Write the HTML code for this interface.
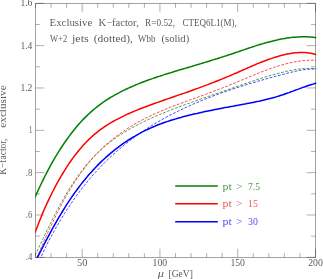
<!DOCTYPE html>
<html><head><meta charset="utf-8"><title>K-factor</title>
<style>html,body{margin:0;padding:0;background:#fff;overflow:hidden}body{width:323px;height:279px;position:relative;font-family:"Liberation Serif",serif}</style></head>
<body>
<div style="position:absolute;left:0;top:0;width:323px;height:279px;will-change:transform">
<svg width="323" height="279" viewBox="0 0 323 279" style="position:absolute;left:0;top:0">
<defs><clipPath id="c"><rect x="35.2" y="3.2" width="281" height="254.8"/></clipPath></defs>
<g stroke="#000" stroke-opacity="0.36" stroke-width="1" fill="none">
<rect x="35.5" y="3.5" width="280.0" height="254.0"/>
<path d="M35.50 257.5 v-4.4 M35.50 3.5 v4.4" stroke-opacity="0.31"/>
<path d="M51.06 257.5 v-4.4 M51.06 3.5 v4.4" stroke-opacity="0.31"/>
<path d="M66.61 257.5 v-4.4 M66.61 3.5 v4.4" stroke-opacity="0.31"/>
<path d="M82.17 257.5 v-8.8 M82.17 3.5 v8.8" stroke-opacity="0.31"/>
<path d="M97.72 257.5 v-4.4 M97.72 3.5 v4.4" stroke-opacity="0.31"/>
<path d="M113.28 257.5 v-4.4 M113.28 3.5 v4.4" stroke-opacity="0.31"/>
<path d="M128.83 257.5 v-4.4 M128.83 3.5 v4.4" stroke-opacity="0.31"/>
<path d="M144.39 257.5 v-4.4 M144.39 3.5 v4.4" stroke-opacity="0.31"/>
<path d="M159.94 257.5 v-8.8 M159.94 3.5 v8.8" stroke-opacity="0.31"/>
<path d="M175.50 257.5 v-4.4 M175.50 3.5 v4.4" stroke-opacity="0.31"/>
<path d="M191.06 257.5 v-4.4 M191.06 3.5 v4.4" stroke-opacity="0.31"/>
<path d="M206.61 257.5 v-4.4 M206.61 3.5 v4.4" stroke-opacity="0.31"/>
<path d="M222.17 257.5 v-4.4 M222.17 3.5 v4.4" stroke-opacity="0.31"/>
<path d="M237.72 257.5 v-8.8 M237.72 3.5 v8.8" stroke-opacity="0.31"/>
<path d="M253.28 257.5 v-4.4 M253.28 3.5 v4.4" stroke-opacity="0.31"/>
<path d="M268.83 257.5 v-4.4 M268.83 3.5 v4.4" stroke-opacity="0.31"/>
<path d="M284.39 257.5 v-4.4 M284.39 3.5 v4.4" stroke-opacity="0.31"/>
<path d="M299.94 257.5 v-4.4 M299.94 3.5 v4.4" stroke-opacity="0.31"/>
<path d="M315.50 257.5 v-8.8 M315.50 3.5 v8.8" stroke-opacity="0.31"/>
<path d="M35.5 257.30 h8.8 M315.5 257.30 h-8.8" stroke-opacity="0.31"/>
<path d="M35.5 236.13 h4.4 M315.5 236.13 h-4.4" stroke-opacity="0.31"/>
<path d="M35.5 214.97 h8.8 M315.5 214.97 h-8.8" stroke-opacity="0.31"/>
<path d="M35.5 193.80 h4.4 M315.5 193.80 h-4.4" stroke-opacity="0.31"/>
<path d="M35.5 172.63 h8.8 M315.5 172.63 h-8.8" stroke-opacity="0.31"/>
<path d="M35.5 151.47 h4.4 M315.5 151.47 h-4.4" stroke-opacity="0.31"/>
<path d="M35.5 130.30 h8.8 M315.5 130.30 h-8.8" stroke-opacity="0.31"/>
<path d="M35.5 109.13 h4.4 M315.5 109.13 h-4.4" stroke-opacity="0.31"/>
<path d="M35.5 87.97 h8.8 M315.5 87.97 h-8.8" stroke-opacity="0.31"/>
<path d="M35.5 66.80 h4.4 M315.5 66.80 h-4.4" stroke-opacity="0.31"/>
<path d="M35.5 45.63 h8.8 M315.5 45.63 h-8.8" stroke-opacity="0.31"/>
<path d="M35.5 24.47 h4.4 M315.5 24.47 h-4.4" stroke-opacity="0.31"/>
<path d="M35.5 3.30 h8.8 M315.5 3.30 h-8.8" stroke-opacity="0.31"/>
</g>
<g clip-path="url(#c)" fill="none" stroke-linejoin="round">
<path d="M35.0 255.3 L37.0 251.3 L39.0 247.2 L41.0 243.0 L43.0 238.8 L45.0 234.6 L47.0 230.5 L49.0 226.3 L51.0 222.3 L53.0 218.3 L55.0 214.4 L57.0 210.5 L59.0 206.8 L61.0 203.1 L63.0 199.5 L65.0 196.0 L67.0 192.7 L69.0 189.4 L71.0 186.2 L73.0 183.1 L75.0 180.1 L77.0 177.2 L79.0 174.4 L81.0 171.8 L83.0 169.2 L85.0 166.6 L87.0 164.2 L89.0 161.9 L91.0 159.7 L93.0 157.5 L95.0 155.4 L97.0 153.4 L99.0 151.5 L101.0 149.7 L103.0 147.9 L105.0 146.2 L107.0 144.5 L109.0 142.9 L111.0 141.4 L113.0 139.9 L115.0 138.5 L117.0 137.1 L119.0 135.7 L121.0 134.4 L123.0 133.1 L125.0 131.9 L127.0 130.7 L129.0 129.5 L131.0 128.4 L133.0 127.3 L135.0 126.2 L137.0 125.1 L139.0 124.1 L141.0 123.1 L143.0 122.1 L145.0 121.1 L147.0 120.1 L149.0 119.2 L151.0 118.3 L153.0 117.4 L155.0 116.5 L157.0 115.6 L159.0 114.8 L161.0 113.9 L163.0 113.1 L165.0 112.3 L167.0 111.5 L169.0 110.7 L171.0 109.9 L173.0 109.1 L175.0 108.4 L177.0 107.6 L179.0 106.9 L181.0 106.1 L183.0 105.4 L185.0 104.7 L187.0 103.9 L189.0 103.2 L191.0 102.5 L193.0 101.8 L195.0 101.1 L197.0 100.4 L199.0 99.7 L201.0 98.9 L203.0 98.2 L205.0 97.6 L207.0 96.9 L209.0 96.2 L211.0 95.5 L213.0 94.8 L215.0 94.1 L217.0 93.4 L219.0 92.7 L221.0 92.0 L223.0 91.3 L225.0 90.6 L227.0 89.9 L229.0 89.2 L231.0 88.6 L233.0 87.9 L235.0 87.2 L237.0 86.5 L239.0 85.8 L241.0 85.1 L243.0 84.4 L245.0 83.7 L247.0 83.0 L249.0 82.3 L251.0 81.6 L253.0 81.0 L255.0 80.3 L257.0 79.6 L259.0 79.0 L261.0 78.4 L263.0 77.7 L265.0 77.1 L267.0 76.5 L269.0 75.9 L271.0 75.3 L273.0 74.8 L275.0 74.2 L277.0 73.7 L279.0 73.2 L281.0 72.6 L283.0 72.2 L285.0 71.7 L287.0 71.2 L289.0 70.8 L291.0 70.4 L293.0 70.0 L295.0 69.6 L297.0 69.3 L299.0 69.1 L301.0 68.8 L303.0 68.6 L305.0 68.5 L307.0 68.4 L309.0 68.4 L311.0 68.4 L313.0 68.4 L315.0 68.6 L317.0 68.7" stroke="#008000" stroke-width="0.7" stroke-dasharray="2.8 1.5"/>
<path d="M35.0 261.2 L37.0 256.9 L39.0 252.4 L41.0 247.9 L43.0 243.3 L45.0 238.9 L47.0 234.4 L49.0 230.0 L51.0 225.7 L53.0 221.5 L55.0 217.4 L57.0 213.3 L59.0 209.4 L61.0 205.6 L63.0 201.8 L65.0 198.2 L67.0 194.7 L69.0 191.3 L71.0 187.9 L73.0 184.7 L75.0 181.6 L77.0 178.6 L79.0 175.7 L81.0 172.8 L83.0 170.1 L85.0 167.5 L87.0 164.9 L89.0 162.5 L91.0 160.1 L93.0 157.8 L95.0 155.6 L97.0 153.5 L99.0 151.4 L101.0 149.4 L103.0 147.5 L105.0 145.7 L107.0 143.9 L109.0 142.1 L111.0 140.5 L113.0 138.9 L115.0 137.3 L117.0 135.8 L119.0 134.3 L121.0 132.9 L123.0 131.5 L125.0 130.1 L127.0 128.8 L129.0 127.6 L131.0 126.3 L133.0 125.1 L135.0 123.9 L137.0 122.8 L139.0 121.7 L141.0 120.6 L143.0 119.6 L145.0 118.5 L147.0 117.5 L149.0 116.5 L151.0 115.6 L153.0 114.6 L155.0 113.7 L157.0 112.8 L159.0 112.0 L161.0 111.1 L163.0 110.3 L165.0 109.4 L167.0 108.6 L169.0 107.8 L171.0 107.1 L173.0 106.3 L175.0 105.5 L177.0 104.8 L179.0 104.0 L181.0 103.3 L183.0 102.6 L185.0 101.8 L187.0 101.1 L189.0 100.4 L191.0 99.6 L193.0 98.9 L195.0 98.2 L197.0 97.5 L199.0 96.7 L201.0 96.0 L203.0 95.3 L205.0 94.5 L207.0 93.8 L209.0 93.0 L211.0 92.3 L213.0 91.5 L215.0 90.8 L217.0 90.0 L219.0 89.3 L221.0 88.5 L223.0 87.7 L225.0 86.9 L227.0 86.1 L229.0 85.3 L231.0 84.5 L233.0 83.7 L235.0 82.9 L237.0 82.1 L239.0 81.2 L241.0 80.4 L243.0 79.6 L245.0 78.7 L247.0 77.9 L249.0 77.0 L251.0 76.2 L253.0 75.4 L255.0 74.5 L257.0 73.7 L259.0 72.9 L261.0 72.1 L263.0 71.4 L265.0 70.6 L267.0 69.9 L269.0 69.1 L271.0 68.4 L273.0 67.8 L275.0 67.1 L277.0 66.4 L279.0 65.8 L281.0 65.2 L283.0 64.7 L285.0 64.1 L287.0 63.6 L289.0 63.1 L291.0 62.7 L293.0 62.2 L295.0 61.9 L297.0 61.5 L299.0 61.2 L301.0 60.9 L303.0 60.7 L305.0 60.5 L307.0 60.3 L309.0 60.2 L311.0 60.2 L313.0 60.2 L315.0 60.2 L317.0 60.3" stroke="#ff0000" stroke-width="0.7" stroke-dasharray="2.8 1.5"/>
<path d="M35.0 271.9 L37.0 266.6 L39.0 261.7 L41.0 257.1 L43.0 252.7 L45.0 248.5 L47.0 244.4 L49.0 240.5 L51.0 236.8 L53.0 233.1 L55.0 229.5 L57.0 226.0 L59.0 222.6 L61.0 219.3 L63.0 216.0 L65.0 212.8 L67.0 209.7 L69.0 206.7 L71.0 203.7 L73.0 200.7 L75.0 197.9 L77.0 195.1 L79.0 192.4 L81.0 189.7 L83.0 187.1 L85.0 184.6 L87.0 182.1 L89.0 179.7 L91.0 177.3 L93.0 175.0 L95.0 172.8 L97.0 170.6 L99.0 168.4 L101.0 166.3 L103.0 164.3 L105.0 162.3 L107.0 160.3 L109.0 158.4 L111.0 156.5 L113.0 154.7 L115.0 152.9 L117.0 151.1 L119.0 149.4 L121.0 147.7 L123.0 146.1 L125.0 144.4 L127.0 142.8 L129.0 141.3 L131.0 139.8 L133.0 138.3 L135.0 136.8 L137.0 135.4 L139.0 134.0 L141.0 132.6 L143.0 131.2 L145.0 129.9 L147.0 128.6 L149.0 127.3 L151.0 126.1 L153.0 124.8 L155.0 123.6 L157.0 122.4 L159.0 121.3 L161.0 120.1 L163.0 119.0 L165.0 117.9 L167.0 116.8 L169.0 115.7 L171.0 114.7 L173.0 113.7 L175.0 112.7 L177.0 111.7 L179.0 110.7 L181.0 109.7 L183.0 108.8 L185.0 107.8 L187.0 106.9 L189.0 106.0 L191.0 105.1 L193.0 104.2 L195.0 103.4 L197.0 102.5 L199.0 101.7 L201.0 100.8 L203.0 100.0 L205.0 99.2 L207.0 98.4 L209.0 97.6 L211.0 96.9 L213.0 96.1 L215.0 95.3 L217.0 94.6 L219.0 93.9 L221.0 93.1 L223.0 92.4 L225.0 91.7 L227.0 91.0 L229.0 90.3 L231.0 89.7 L233.0 89.0 L235.0 88.3 L237.0 87.7 L239.0 87.0 L241.0 86.4 L243.0 85.8 L245.0 85.1 L247.0 84.5 L249.0 83.9 L251.0 83.3 L253.0 82.7 L255.0 82.1 L257.0 81.5 L259.0 80.9 L261.0 80.4 L263.0 79.8 L265.0 79.2 L267.0 78.7 L269.0 78.1 L271.0 77.6 L273.0 77.0 L275.0 76.5 L277.0 75.9 L279.0 75.4 L281.0 74.9 L283.0 74.3 L285.0 73.8 L287.0 73.3 L289.0 72.8 L291.0 72.3 L293.0 71.8 L295.0 71.3 L297.0 70.9 L299.0 70.5 L301.0 70.2 L303.0 69.9 L305.0 69.6 L307.0 69.4 L309.0 69.2 L311.0 69.1 L313.0 69.0 L315.0 69.1 L317.0 69.1" stroke="#0000ff" stroke-width="0.7" stroke-dasharray="2.8 1.5"/>
<path d="M35.0 197.5 L37.0 192.9 L39.0 188.5 L41.0 184.2 L43.0 180.1 L45.0 176.0 L47.0 172.1 L49.0 168.4 L51.0 164.7 L53.0 161.2 L55.0 157.7 L57.0 154.4 L59.0 151.2 L61.0 148.0 L63.0 145.0 L65.0 142.0 L67.0 139.2 L69.0 136.4 L71.0 133.8 L73.0 131.2 L75.0 128.7 L77.0 126.3 L79.0 124.0 L81.0 121.8 L83.0 119.6 L85.0 117.6 L87.0 115.6 L89.0 113.7 L91.0 111.9 L93.0 110.1 L95.0 108.5 L97.0 106.9 L99.0 105.3 L101.0 103.8 L103.0 102.4 L105.0 101.0 L107.0 99.7 L109.0 98.5 L111.0 97.2 L113.0 96.1 L115.0 94.9 L117.0 93.8 L119.0 92.8 L121.0 91.7 L123.0 90.7 L125.0 89.7 L127.0 88.8 L129.0 87.9 L131.0 87.0 L133.0 86.1 L135.0 85.3 L137.0 84.4 L139.0 83.6 L141.0 82.8 L143.0 82.0 L145.0 81.3 L147.0 80.5 L149.0 79.8 L151.0 79.1 L153.0 78.4 L155.0 77.7 L157.0 77.0 L159.0 76.4 L161.0 75.7 L163.0 75.1 L165.0 74.4 L167.0 73.8 L169.0 73.2 L171.0 72.6 L173.0 72.0 L175.0 71.3 L177.0 70.7 L179.0 70.1 L181.0 69.6 L183.0 69.0 L185.0 68.4 L187.0 67.8 L189.0 67.2 L191.0 66.6 L193.0 66.0 L195.0 65.4 L197.0 64.8 L199.0 64.2 L201.0 63.6 L203.0 63.0 L205.0 62.4 L207.0 61.8 L209.0 61.2 L211.0 60.5 L213.0 59.9 L215.0 59.3 L217.0 58.7 L219.0 58.0 L221.0 57.4 L223.0 56.8 L225.0 56.1 L227.0 55.5 L229.0 54.8 L231.0 54.2 L233.0 53.5 L235.0 52.8 L237.0 52.1 L239.0 51.5 L241.0 50.8 L243.0 50.1 L245.0 49.4 L247.0 48.7 L249.0 48.0 L251.0 47.4 L253.0 46.7 L255.0 46.1 L257.0 45.4 L259.0 44.8 L261.0 44.2 L263.0 43.6 L265.0 43.0 L267.0 42.4 L269.0 41.9 L271.0 41.4 L273.0 40.9 L275.0 40.4 L277.0 40.0 L279.0 39.5 L281.0 39.1 L283.0 38.8 L285.0 38.4 L287.0 38.1 L289.0 37.8 L291.0 37.6 L293.0 37.3 L295.0 37.2 L297.0 37.0 L299.0 36.9 L301.0 36.8 L303.0 36.8 L305.0 36.8 L307.0 36.8 L309.0 36.9 L311.0 37.1 L313.0 37.3 L315.0 37.5 L317.0 37.8" stroke="#008000" stroke-width="1.5"/>
<path d="M35.0 232.9 L37.0 227.4 L39.0 222.2 L41.0 217.2 L43.0 212.4 L45.0 207.8 L47.0 203.4 L49.0 199.1 L51.0 195.0 L53.0 191.0 L55.0 187.1 L57.0 183.4 L59.0 179.8 L61.0 176.4 L63.0 173.0 L65.0 169.8 L67.0 166.6 L69.0 163.6 L71.0 160.7 L73.0 157.9 L75.0 155.3 L77.0 152.7 L79.0 150.2 L81.0 147.9 L83.0 145.6 L85.0 143.4 L87.0 141.3 L89.0 139.4 L91.0 137.5 L93.0 135.6 L95.0 133.9 L97.0 132.3 L99.0 130.7 L101.0 129.2 L103.0 127.8 L105.0 126.4 L107.0 125.1 L109.0 123.9 L111.0 122.7 L113.0 121.5 L115.0 120.4 L117.0 119.3 L119.0 118.3 L121.0 117.3 L123.0 116.3 L125.0 115.3 L127.0 114.4 L129.0 113.5 L131.0 112.6 L133.0 111.8 L135.0 110.9 L137.0 110.1 L139.0 109.3 L141.0 108.5 L143.0 107.7 L145.0 107.0 L147.0 106.2 L149.0 105.5 L151.0 104.7 L153.0 104.0 L155.0 103.3 L157.0 102.6 L159.0 101.9 L161.0 101.2 L163.0 100.5 L165.0 99.8 L167.0 99.1 L169.0 98.4 L171.0 97.7 L173.0 97.0 L175.0 96.3 L177.0 95.6 L179.0 94.9 L181.0 94.3 L183.0 93.6 L185.0 92.9 L187.0 92.2 L189.0 91.5 L191.0 90.7 L193.0 90.0 L195.0 89.3 L197.0 88.6 L199.0 87.9 L201.0 87.1 L203.0 86.4 L205.0 85.6 L207.0 84.9 L209.0 84.1 L211.0 83.3 L213.0 82.6 L215.0 81.8 L217.0 81.0 L219.0 80.2 L221.0 79.4 L223.0 78.6 L225.0 77.8 L227.0 76.9 L229.0 76.1 L231.0 75.2 L233.0 74.4 L235.0 73.5 L237.0 72.7 L239.0 71.8 L241.0 70.9 L243.0 70.0 L245.0 69.1 L247.0 68.2 L249.0 67.4 L251.0 66.5 L253.0 65.6 L255.0 64.8 L257.0 63.9 L259.0 63.1 L261.0 62.3 L263.0 61.5 L265.0 60.7 L267.0 60.0 L269.0 59.3 L271.0 58.6 L273.0 57.9 L275.0 57.3 L277.0 56.7 L279.0 56.1 L281.0 55.6 L283.0 55.1 L285.0 54.6 L287.0 54.1 L289.0 53.7 L291.0 53.4 L293.0 53.1 L295.0 52.8 L297.0 52.7 L299.0 52.5 L301.0 52.5 L303.0 52.5 L305.0 52.6 L307.0 52.8 L309.0 53.0 L311.0 53.3 L313.0 53.8 L315.0 54.3 L317.0 54.9" stroke="#ff0000" stroke-width="1.5"/>
<path d="M35.0 262.3 L37.0 258.4 L39.0 254.4 L41.0 250.5 L43.0 246.6 L45.0 242.7 L47.0 238.8 L49.0 235.1 L51.0 231.4 L53.0 227.7 L55.0 224.1 L57.0 220.6 L59.0 217.2 L61.0 213.8 L63.0 210.5 L65.0 207.3 L67.0 204.2 L69.0 201.1 L71.0 198.1 L73.0 195.2 L75.0 192.4 L77.0 189.7 L79.0 187.0 L81.0 184.4 L83.0 181.8 L85.0 179.4 L87.0 177.0 L89.0 174.6 L91.0 172.4 L93.0 170.2 L95.0 168.0 L97.0 165.9 L99.0 163.9 L101.0 161.9 L103.0 160.0 L105.0 158.2 L107.0 156.4 L109.0 154.6 L111.0 152.9 L113.0 151.3 L115.0 149.7 L117.0 148.1 L119.0 146.6 L121.0 145.1 L123.0 143.7 L125.0 142.3 L127.0 141.0 L129.0 139.7 L131.0 138.5 L133.0 137.2 L135.0 136.1 L137.0 134.9 L139.0 133.8 L141.0 132.7 L143.0 131.7 L145.0 130.7 L147.0 129.7 L149.0 128.8 L151.0 127.9 L153.0 127.0 L155.0 126.1 L157.0 125.3 L159.0 124.5 L161.0 123.8 L163.0 123.0 L165.0 122.3 L167.0 121.6 L169.0 121.0 L171.0 120.3 L173.0 119.7 L175.0 119.1 L177.0 118.5 L179.0 117.9 L181.0 117.4 L183.0 116.8 L185.0 116.3 L187.0 115.8 L189.0 115.3 L191.0 114.8 L193.0 114.3 L195.0 113.8 L197.0 113.4 L199.0 112.9 L201.0 112.5 L203.0 112.1 L205.0 111.6 L207.0 111.2 L209.0 110.8 L211.0 110.4 L213.0 110.0 L215.0 109.6 L217.0 109.2 L219.0 108.8 L221.0 108.4 L223.0 108.0 L225.0 107.6 L227.0 107.3 L229.0 106.9 L231.0 106.5 L233.0 106.2 L235.0 105.8 L237.0 105.4 L239.0 105.1 L241.0 104.7 L243.0 104.3 L245.0 104.0 L247.0 103.6 L249.0 103.2 L251.0 102.8 L253.0 102.4 L255.0 102.0 L257.0 101.6 L259.0 101.2 L261.0 100.7 L263.0 100.3 L265.0 99.8 L267.0 99.3 L269.0 98.8 L271.0 98.3 L273.0 97.7 L275.0 97.2 L277.0 96.6 L279.0 96.0 L281.0 95.3 L283.0 94.7 L285.0 94.0 L287.0 93.3 L289.0 92.6 L291.0 91.8 L293.0 91.1 L295.0 90.3 L297.0 89.6 L299.0 88.9 L301.0 88.1 L303.0 87.4 L305.0 86.7 L307.0 86.0 L309.0 85.3 L311.0 84.7 L313.0 84.1 L315.0 83.5 L317.0 83.0" stroke="#0000ff" stroke-width="1.5"/>
</g>
<path d="M175.2 186 H217.8" stroke="#008000" stroke-width="1.45" fill="none"/>
<path d="M175.2 203.7 H217.8" stroke="#ff0000" stroke-width="1.45" fill="none"/>
<path d="M175.2 221.7 H217.8" stroke="#0000ff" stroke-width="1.45" fill="none"/>
<g font-family="Liberation Serif, serif" style="opacity:0.999">
<text x="49.6" y="26.4" textLength="42.7" lengthAdjust="spacingAndGlyphs" fill="#5c5c5c" font-size="9.3" >Exclusive</text>
<text x="98.6" y="26.4" textLength="40.2" lengthAdjust="spacingAndGlyphs" fill="#5c5c5c" font-size="9.3" >K−factor,</text>
<text x="145.0" y="26.4" textLength="30.0" lengthAdjust="spacingAndGlyphs" fill="#5c5c5c" font-size="9.3" >R=0.52,</text>
<text x="182.4" y="26.4" textLength="54.3" lengthAdjust="spacingAndGlyphs" fill="#5c5c5c" font-size="9.3" >CTEQ6L1(M),</text>
<text x="50.0" y="42.2" textLength="17.2" lengthAdjust="spacingAndGlyphs" fill="#5c5c5c" font-size="9.3" >W+2</text>
<text x="72.0" y="42.2" textLength="16.8" lengthAdjust="spacingAndGlyphs" fill="#5c5c5c" font-size="9.3" >jets</text>
<text x="93.8" y="42.2" textLength="39.2" lengthAdjust="spacingAndGlyphs" fill="#5c5c5c" font-size="9.3" >(dotted),</text>
<text x="138.1" y="42.2" textLength="17.3" lengthAdjust="spacingAndGlyphs" fill="#5c5c5c" font-size="9.3" >Wbb</text>
<text x="161.5" y="42.2" textLength="27.7" lengthAdjust="spacingAndGlyphs" fill="#5c5c5c" font-size="9.3" >(solid)</text>
<text x="20.4" y="6.2" textLength="12.0" lengthAdjust="spacingAndGlyphs" fill="#5c5c5c" font-size="9.3" >1.6</text>
<text x="20.4" y="48.5" textLength="12.0" lengthAdjust="spacingAndGlyphs" fill="#5c5c5c" font-size="9.3" >1.4</text>
<text x="20.4" y="90.9" textLength="12.0" lengthAdjust="spacingAndGlyphs" fill="#5c5c5c" font-size="9.3" >1.2</text>
<text x="29.0" y="133.2" textLength="3.4" lengthAdjust="spacingAndGlyphs" fill="#5c5c5c" font-size="9.3" >1</text>
<text x="25.8" y="175.5" textLength="6.6" lengthAdjust="spacingAndGlyphs" fill="#5c5c5c" font-size="9.3" >.8</text>
<text x="25.8" y="217.9" textLength="6.6" lengthAdjust="spacingAndGlyphs" fill="#5c5c5c" font-size="9.3" >.6</text>
<text x="25.8" y="260.2" textLength="6.6" lengthAdjust="spacingAndGlyphs" fill="#5c5c5c" font-size="9.3" >.4</text>
<text x="77.0" y="265.8" textLength="10.4" lengthAdjust="spacingAndGlyphs" fill="#5c5c5c" font-size="9.3" >50</text>
<text x="152.6" y="265.8" textLength="14.6" lengthAdjust="spacingAndGlyphs" fill="#5c5c5c" font-size="9.3" >100</text>
<text x="230.4" y="265.8" textLength="14.6" lengthAdjust="spacingAndGlyphs" fill="#5c5c5c" font-size="9.3" >150</text>
<text x="308.2" y="265.8" textLength="14.6" lengthAdjust="spacingAndGlyphs" fill="#5c5c5c" font-size="9.3" >200</text>
<text x="157.8" y="276.6" textLength="6.1" lengthAdjust="spacingAndGlyphs" fill="#5c5c5c" font-size="9.3" font-style="italic">μ</text>
<text x="168.5" y="276.8" textLength="24.3" lengthAdjust="spacingAndGlyphs" fill="#5c5c5c" font-size="9.3" >[GeV]</text>
<g transform="translate(6.3,174.8) rotate(-90)">
<text x="0.0" y="0.0" textLength="36.2" lengthAdjust="spacingAndGlyphs" fill="#5c5c5c" font-size="9.3" >K−factor,</text>
<text x="47.1" y="0.0" textLength="42.4" lengthAdjust="spacingAndGlyphs" fill="#5c5c5c" font-size="9.3" >exclusive</text>
</g>
<text x="222.6" y="189.7" textLength="9.3" lengthAdjust="spacingAndGlyphs" fill="#4f9a4f" font-size="9.3" >pt</text>
<text x="236.3" y="189.7" textLength="6.2" lengthAdjust="spacingAndGlyphs" fill="#4f9a4f" font-size="9.3" >&gt;</text>
<text x="248.0" y="189.7" textLength="12.0" lengthAdjust="spacingAndGlyphs" fill="#4f9a4f" font-size="9.3" >7.5</text>
<text x="222.6" y="207.4" textLength="9.3" lengthAdjust="spacingAndGlyphs" fill="#f05a5a" font-size="9.3" >pt</text>
<text x="236.3" y="207.4" textLength="6.2" lengthAdjust="spacingAndGlyphs" fill="#f05a5a" font-size="9.3" >&gt;</text>
<text x="248.0" y="207.4" textLength="9.8" lengthAdjust="spacingAndGlyphs" fill="#f05a5a" font-size="9.3" >15</text>
<text x="222.6" y="225.4" textLength="9.3" lengthAdjust="spacingAndGlyphs" fill="#5050f0" font-size="9.3" >pt</text>
<text x="236.3" y="225.4" textLength="6.2" lengthAdjust="spacingAndGlyphs" fill="#5050f0" font-size="9.3" >&gt;</text>
<text x="248.0" y="225.4" textLength="9.8" lengthAdjust="spacingAndGlyphs" fill="#5050f0" font-size="9.3" >30</text>
</g>
</svg>
</div>
</body></html>
